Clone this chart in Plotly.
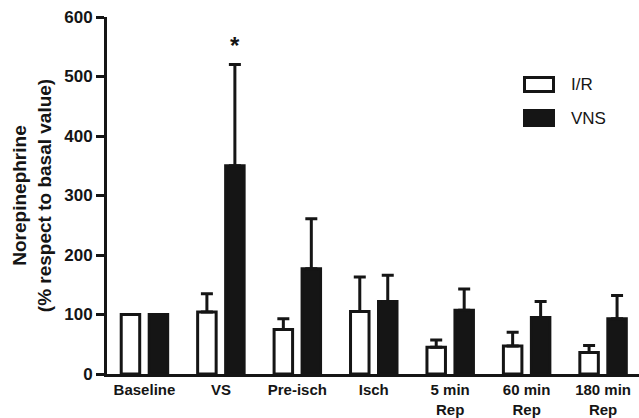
import plotly.graph_objects as go

categories = ["Baseline", "VS", "Pre-isch", "Isch", "5 min<br>Rep", "60 min<br>Rep", "180 min<br>Rep"]
ir_mean = [100, 104, 75, 105, 45, 47, 36]
ir_err = [0, 31, 18, 58, 12, 23, 12]
vns_mean = [100, 350, 177, 122, 107, 95, 93]
vns_err = [0, 170, 84, 44, 36, 27, 39]
y_ticks = [0, 100, 200, 300, 400, 500, 600]

FONT = "Liberation Sans, Arial, sans-serif"
DARK = "#151515"

fig = go.Figure()
fig.add_trace(go.Bar(
    x=categories, y=ir_mean, name="I/R",
    width=0.242, offset=-0.304,
    marker=dict(color="white", line=dict(color=DARK, width=3)),
    error_y=dict(type="data", array=ir_err, arrayminus=[0]*len(ir_err), symmetric=False,
                 color=DARK, thickness=3, width=6),
))
fig.add_trace(go.Bar(
    x=categories, y=vns_mean, name="VNS",
    width=0.242, offset=0.062,
    marker=dict(color=DARK, line=dict(color=DARK, width=3)),
    error_y=dict(type="data", array=vns_err, arrayminus=[0]*len(vns_err), symmetric=False,
                 color=DARK, thickness=3, width=6),
))

# significance marker above VS / VNS
fig.add_annotation(x=1, y=vns_mean[1] + vns_err[1], xref="x", yref="y", text="<b>*</b>",
                   showarrow=False, xshift=0.183 * 76.5, yanchor="bottom", yshift=4,
                   font=dict(family=FONT, size=24, color=DARK))

# legend drawn manually (large boxes)
def px_x(p):
    return (p - 107) / 532

def px_y(p):
    return (374 - p) / 357

fig.add_shape(type="rect", xref="paper", yref="paper", x0=px_x(524.5), x1=px_x(553.5),
              y0=px_y(91.5), y1=px_y(77.5), fillcolor="white", line=dict(color=DARK, width=3))
fig.add_shape(type="rect", xref="paper", yref="paper", x0=px_x(523), x1=px_x(555),
              y0=px_y(127), y1=px_y(109), fillcolor=DARK, line=dict(color=DARK, width=0))
fig.add_annotation(x=px_x(569), y=px_y(84.5), xref="paper", yref="paper", text="I/R",
                   showarrow=False, xanchor="left", yanchor="middle",
                   font=dict(family=FONT, size=17, color=DARK))
fig.add_annotation(x=px_x(569), y=px_y(118), xref="paper", yref="paper", text="VNS",
                   showarrow=False, xanchor="left", yanchor="middle",
                   font=dict(family=FONT, size=17, color=DARK))

fig.update_layout(
    width=639, height=418,
    margin=dict(l=107, r=0, t=17, b=44, autoexpand=False),
    paper_bgcolor="white", plot_bgcolor="white",
    barmode="overlay",
    showlegend=False,
    font=dict(family=FONT, color=DARK),
)
fig.update_xaxes(
    range=[-0.49, 6.47], showline=True, linecolor=DARK, linewidth=3,
    ticks="", showgrid=False, zeroline=False, automargin=False,
    tickfont=dict(family=FONT, size=15, color=DARK, weight="bold"),
)
fig.update_yaxes(
    range=[0, 600], tickvals=y_ticks, showline=True, linecolor=DARK, linewidth=3,
    ticks="outside", ticklen=8, tickwidth=2.5, tickcolor=DARK,
    showgrid=False, zeroline=False, automargin=False,
    tickfont=dict(family=FONT, size=17, color=DARK, weight="bold"),
    title=dict(text="Norepinephrine<br>(% respect to basal value)",
               font=dict(family=FONT, size=19, color=DARK, weight="bold"), standoff=8),
)

fig.write_html("out.html", config={"displayModeBar": False},
               post_script="document.body.style.margin='0';document.body.style.overflow='hidden';")
